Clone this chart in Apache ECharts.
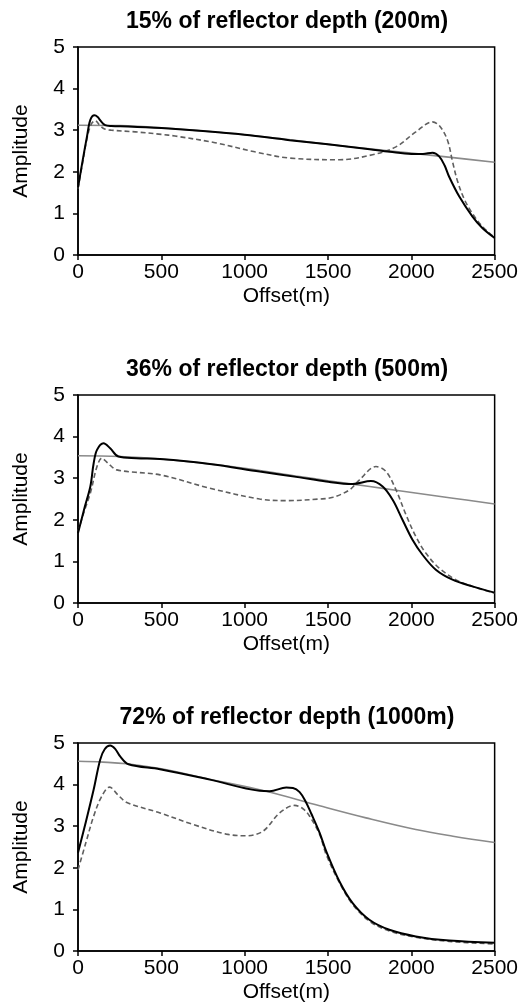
<!DOCTYPE html>
<html>
<head>
<meta charset="utf-8">
<title>Amplitude vs offset</title>
<script src="https://cdn.jsdelivr.net/npm/echarts@6/dist/echarts.min.js"></script>
<style>
  html, body { margin: 0; padding: 0; background: #fff; }
  #chart { width: 521px; height: 1004px; }
</style>
</head>
<body>
<div id="chart"></div>
<script>
// 三个深度的振幅曲线 (offset m, amplitude)
var titles = ['15% of reflector depth (200m)', '36% of reflector depth (500m)', '72% of reflector depth (1000m)'];
var xTicks = [0, 500, 1000, 1500, 2000, 2500];
var yTicks = [0, 1, 2, 3, 4, 5];

// 200m
var solidX1 = [0, 27, 54, 74, 99, 118, 133, 163, 200, 300, 500, 750, 1000, 1270, 1500, 1750, 1870, 2000, 2070, 2127, 2167, 2200, 2227, 2287, 2366, 2426, 2500];
var solidY1 = [1.62, 2.25, 2.85, 3.25, 3.36, 3.32, 3.24, 3.12, 3.10, 3.09, 3.05, 2.98, 2.89, 2.76, 2.66, 2.54, 2.48, 2.43, 2.43, 2.46, 2.37, 2.15, 1.88, 1.41, 0.93, 0.65, 0.41];
var dashX1 = [0, 27, 54, 80, 103, 130, 160, 200, 343, 500, 582, 822, 1061, 1270, 1570, 1767, 1908, 2027, 2127, 2170, 2217, 2247, 2277, 2317, 2366, 2426, 2500];
var dashY1 = [1.6, 2.2, 2.8, 3.15, 3.23, 3.12, 3.03, 3.0, 2.96, 2.9, 2.86, 2.7, 2.48, 2.33, 2.29, 2.41, 2.6, 2.96, 3.2, 3.1, 2.76, 2.25, 1.78, 1.35, 1.0, 0.69, 0.42];
var grayX1 = [0, 250, 500, 750, 1000, 1250, 1500, 1750, 2000, 2250, 2500];
var grayY1 = [3.12, 3.11, 3.06, 2.98, 2.89, 2.78, 2.66, 2.55, 2.45, 2.34, 2.23];

// 500m
var solidX2 = [0, 40, 74, 94, 114, 153, 193, 243, 350, 492, 791, 1090, 1330, 1489, 1648, 1758, 1828, 1888, 1947, 2007, 2067, 2147, 2247, 2366, 2500];
var solidY2 = [1.68, 2.3, 2.8, 3.36, 3.68, 3.84, 3.72, 3.52, 3.48, 3.46, 3.34, 3.16, 3.02, 2.92, 2.86, 2.93, 2.8, 2.48, 2.0, 1.52, 1.16, 0.8, 0.56, 0.4, 0.25];
var dashX2 = [0, 37, 74, 114, 143, 180, 233, 492, 791, 1090, 1250, 1450, 1529, 1629, 1689, 1788, 1848, 1908, 1968, 2027, 2087, 2167, 2267, 2366, 2500];
var dashY2 = [1.72, 2.2, 2.64, 3.28, 3.48, 3.36, 3.2, 3.08, 2.76, 2.5, 2.46, 2.5, 2.54, 2.72, 2.96, 3.28, 3.16, 2.72, 2.12, 1.6, 1.2, 0.84, 0.56, 0.4, 0.24];
var grayX2 = [0, 250, 500, 750, 1000, 1330, 1500, 1750, 1928, 2250, 2500];
var grayY2 = [3.54, 3.52, 3.46, 3.36, 3.24, 3.04, 2.94, 2.8, 2.7, 2.52, 2.38];

// 1000m
var solidX3 = [0, 47, 94, 133, 160, 193, 223, 253, 303, 492, 791, 1090, 1150, 1250, 1290, 1330, 1365, 1400, 1450, 1489, 1569, 1648, 1748, 1868, 2027, 2227, 2500];
var solidY3 = [2.36, 3.1, 3.88, 4.6, 4.85, 4.94, 4.86, 4.68, 4.49, 4.37, 4.12, 3.85, 3.84, 3.93, 3.92, 3.82, 3.6, 3.3, 2.84, 2.4, 1.67, 1.15, 0.75, 0.51, 0.35, 0.25, 0.2];
var dashX3 = [0, 47, 94, 140, 190, 240, 293, 492, 691, 890, 1010, 1110, 1210, 1300, 1350, 1390, 1450, 1489, 1569, 1648, 1748, 1868, 2027, 2227, 2500];
var dashY3 = [1.95, 2.6, 3.24, 3.7, 3.94, 3.75, 3.57, 3.32, 3.04, 2.81, 2.77, 2.88, 3.32, 3.5, 3.42, 3.24, 2.8, 2.32, 1.64, 1.12, 0.72, 0.48, 0.33, 0.23, 0.17];
var grayX3 = [0, 150, 293, 500, 791, 1130, 1450, 1728, 2027, 2250, 2500];
var grayY3 = [4.56, 4.54, 4.5, 4.38, 4.13, 3.84, 3.49, 3.2, 2.92, 2.76, 2.61];

var panels = [
    {solid: [solidX1, solidY1], dash: [dashX1, dashY1], gray: [grayX1, grayY1]},
    {solid: [solidX2, solidY2], dash: [dashX2, dashY2], gray: [grayX2, grayY2]},
    {solid: [solidX3, solidY3], dash: [dashX3, dashY3], gray: [grayX3, grayY3]}
];

function pairs(xs, ys) {
    return xs.map(function (x, i) { return [x, ys[i]]; });
}

var font = 'Liberation Sans, Arial, sans-serif';
var gridTops = [47, 395, 743];
var titleTops = [5, 353, 701];

var option = {
    animation: false,
    backgroundColor: '#fff',
    title: [],
    grid: [],
    xAxis: [],
    yAxis: [],
    series: []
};

panels.forEach(function (p, i) {
    option.title.push({
        text: titles[i],
        left: 282,
        top: titleTops[i],
        textAlign: 'center',
        textStyle: {fontFamily: font, fontSize: 23, fontWeight: 'bold', color: '#000'}
    });
    option.grid.push({
        left: 78, right: 25, top: gridTops[i], height: 208,
        show: true, borderColor: '#000', borderWidth: 1.5, backgroundColor: 'transparent'
    });
    option.xAxis.push({
        gridIndex: i, type: 'value',
        min: xTicks[0], max: xTicks[xTicks.length - 1], interval: 500,
        name: 'Offset(m)', nameLocation: 'middle', nameGap: 31,
        nameTextStyle: {fontFamily: font, fontSize: 21, color: '#000'},
        axisLine: {show: true, lineStyle: {color: '#000', width: 1.5}},
        axisTick: {show: true, inside: false, length: 5, lineStyle: {color: '#000', width: 1.5}},
        axisLabel: {fontFamily: font, fontSize: 21, color: '#000', margin: 7,
            formatter: function (v) { return String(v); }},
        splitLine: {show: false}
    });
    option.yAxis.push({
        gridIndex: i, type: 'value',
        min: yTicks[0], max: yTicks[yTicks.length - 1], interval: 1,
        name: 'Amplitude', nameLocation: 'middle', nameGap: 46, nameRotate: 90,
        nameTextStyle: {fontFamily: font, fontSize: 21, color: '#000'},
        axisLine: {show: true, lineStyle: {color: '#000', width: 1.5}},
        axisTick: {show: true, inside: false, length: 5, lineStyle: {color: '#000', width: 1.5}},
        axisLabel: {fontFamily: font, fontSize: 21, color: '#000', margin: 13},
        splitLine: {show: false}
    });
    // 灰色参考线
    option.series.push({
        type: 'line', xAxisIndex: i, yAxisIndex: i, z: 2,
        data: pairs(p.gray[0], p.gray[1]),
        showSymbol: false, smooth: 0.4,
        lineStyle: {color: '#8a8a8a', width: 1.6}
    });
    // 虚线
    option.series.push({
        type: 'line', xAxisIndex: i, yAxisIndex: i, z: 3,
        data: pairs(p.dash[0], p.dash[1]),
        showSymbol: false, smooth: 0.35,
        lineStyle: {color: '#5f5f5f', width: 1.6, type: [5, 3]}
    });
    // 黑色实线
    option.series.push({
        type: 'line', xAxisIndex: i, yAxisIndex: i, z: 4,
        data: pairs(p.solid[0], p.solid[1]),
        showSymbol: false, smooth: 0.35,
        lineStyle: {color: '#000', width: 2}
    });
});

var myChart = echarts.init(document.getElementById('chart'));
myChart.setOption(option);
</script>
</body>
</html>
